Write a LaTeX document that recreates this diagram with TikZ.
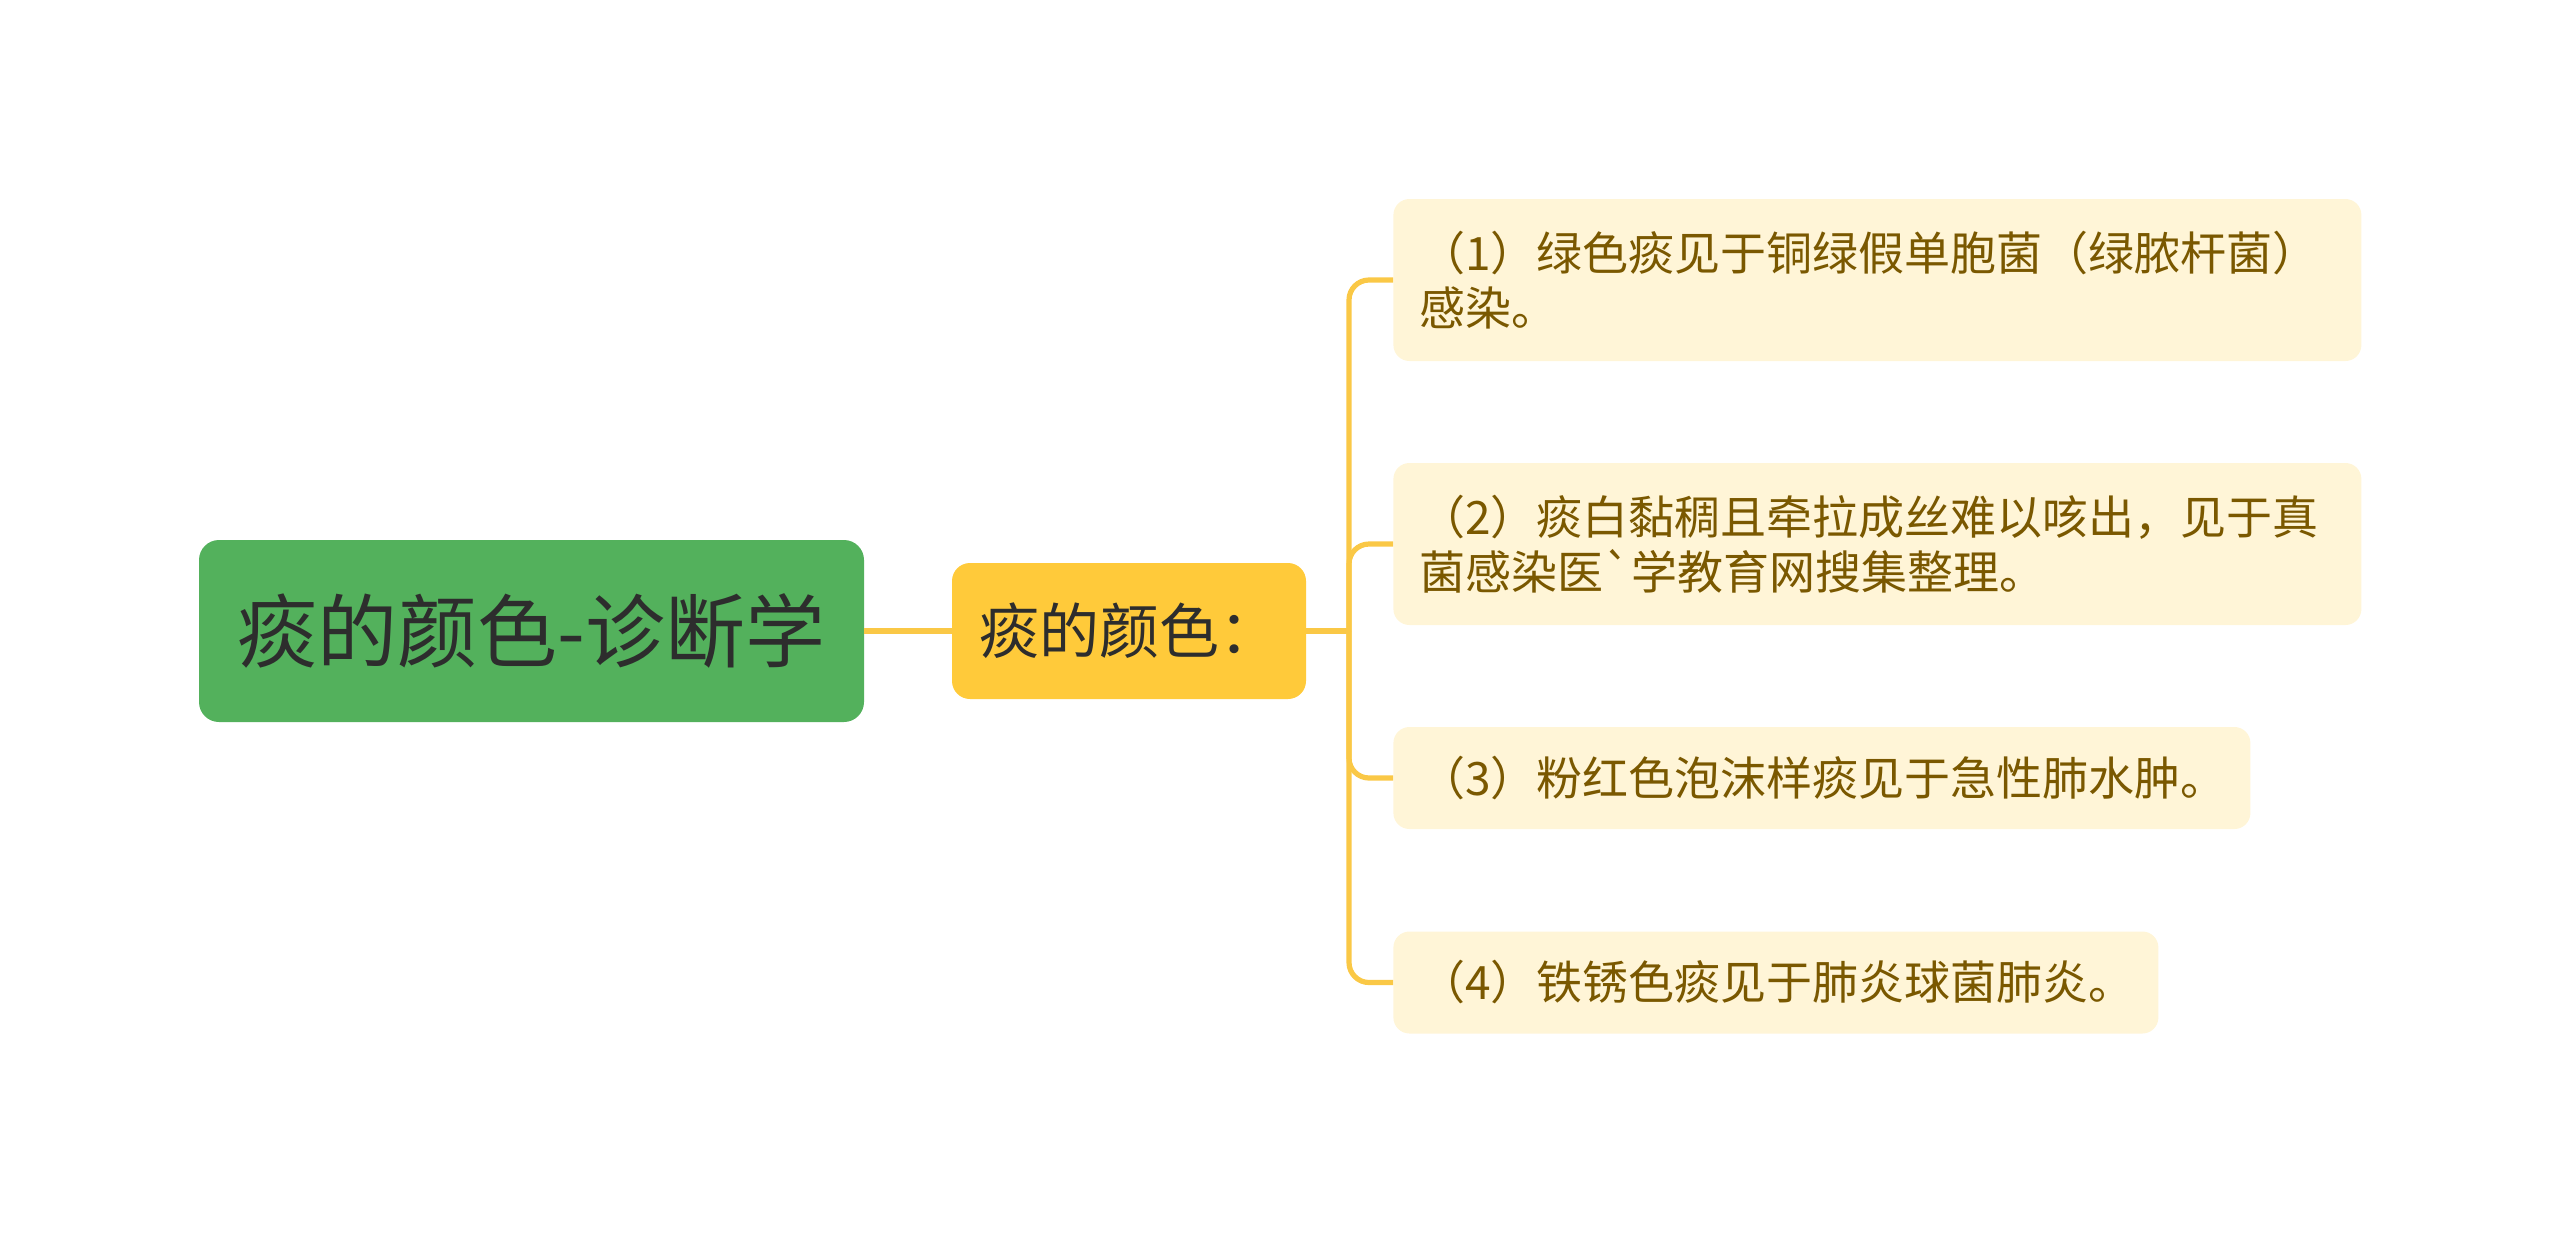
\documentclass[tikz,border=0pt]{standalone}
\usepackage{fontspec}
\newfontfamily\cjk{Noto Sans CJK SC}
\definecolor{rootfill}{RGB}{83,177,92}
\definecolor{childfill}{RGB}{255,202,58}
\definecolor{leaffill}{RGB}{255,245,215}
\definecolor{leaftext}{RGB}{122,88,0}
\definecolor{darktext}{RGB}{45,45,45}
\definecolor{linecol}{RGB}{250,200,70}
\tikzset{
  rootbox/.style={fill=rootfill, rounded corners=10pt, minimum width=332.5pt, minimum height=91pt,
    inner sep=0pt, text=darktext, font=\cjk\fontsize{40}{48}\selectfont},
  childbox/.style={fill=childfill, rounded corners=9pt, minimum width=177pt, minimum height=68pt,
    inner sep=0pt, text=darktext, font=\cjk\fontsize{30}{36}\selectfont},
  leafbox/.style={fill=leaffill, rounded corners=8pt, anchor=west, align=left,
    inner xsep=13pt, inner ysep=0pt, text=leaftext, font=\cjk\fontsize{23}{27.5}\selectfont},
  conn/.style={draw=linecol, line width=2.6pt, rounded corners=10pt}
}
\begin{document}
\begin{tikzpicture}[x=1pt,y=1pt]
\useasboundingbox (0,0) rectangle (1280,-616.5);
\node[rootbox] (root) at (265.75,-315.5) {痰的颜色-诊断学};
\node[childbox] (child) at (564.5,-315.5) {痰的颜色：};
\node[leafbox, text width=458pt, minimum height=81pt] (l1) at (696.5,-140) {（1）绿色痰见于铜绿假单胞菌（绿脓杆菌）\\感染。};
\node[leafbox, text width=458pt, minimum height=81pt] (l2) at (696.5,-272) {（2）痰白黏稠且牵拉成丝难以咳出，见于真\\菌感染医`学教育网搜集整理。};
\node[leafbox, text width=402.5pt, minimum height=51pt] (l3) at (696.5,-389) {（3）粉红色泡沫样痰见于急性肺水肿。};
\node[leafbox, text width=356.5pt, minimum height=51pt] (l4) at (696.5,-491.25) {（4）铁锈色痰见于肺炎球菌肺炎。};
\coordinate (j) at (674.5,-315.5);
\draw[conn] (root.east) -- (child.west);
\draw[conn] (child.east) -- (j);
\draw[conn] (j) |- (l1.west);
\draw[conn] (j) |- (l2.west);
\draw[conn] (j) |- (l3.west);
\draw[conn] (j) |- (l4.west);
\end{tikzpicture}
\end{document}
